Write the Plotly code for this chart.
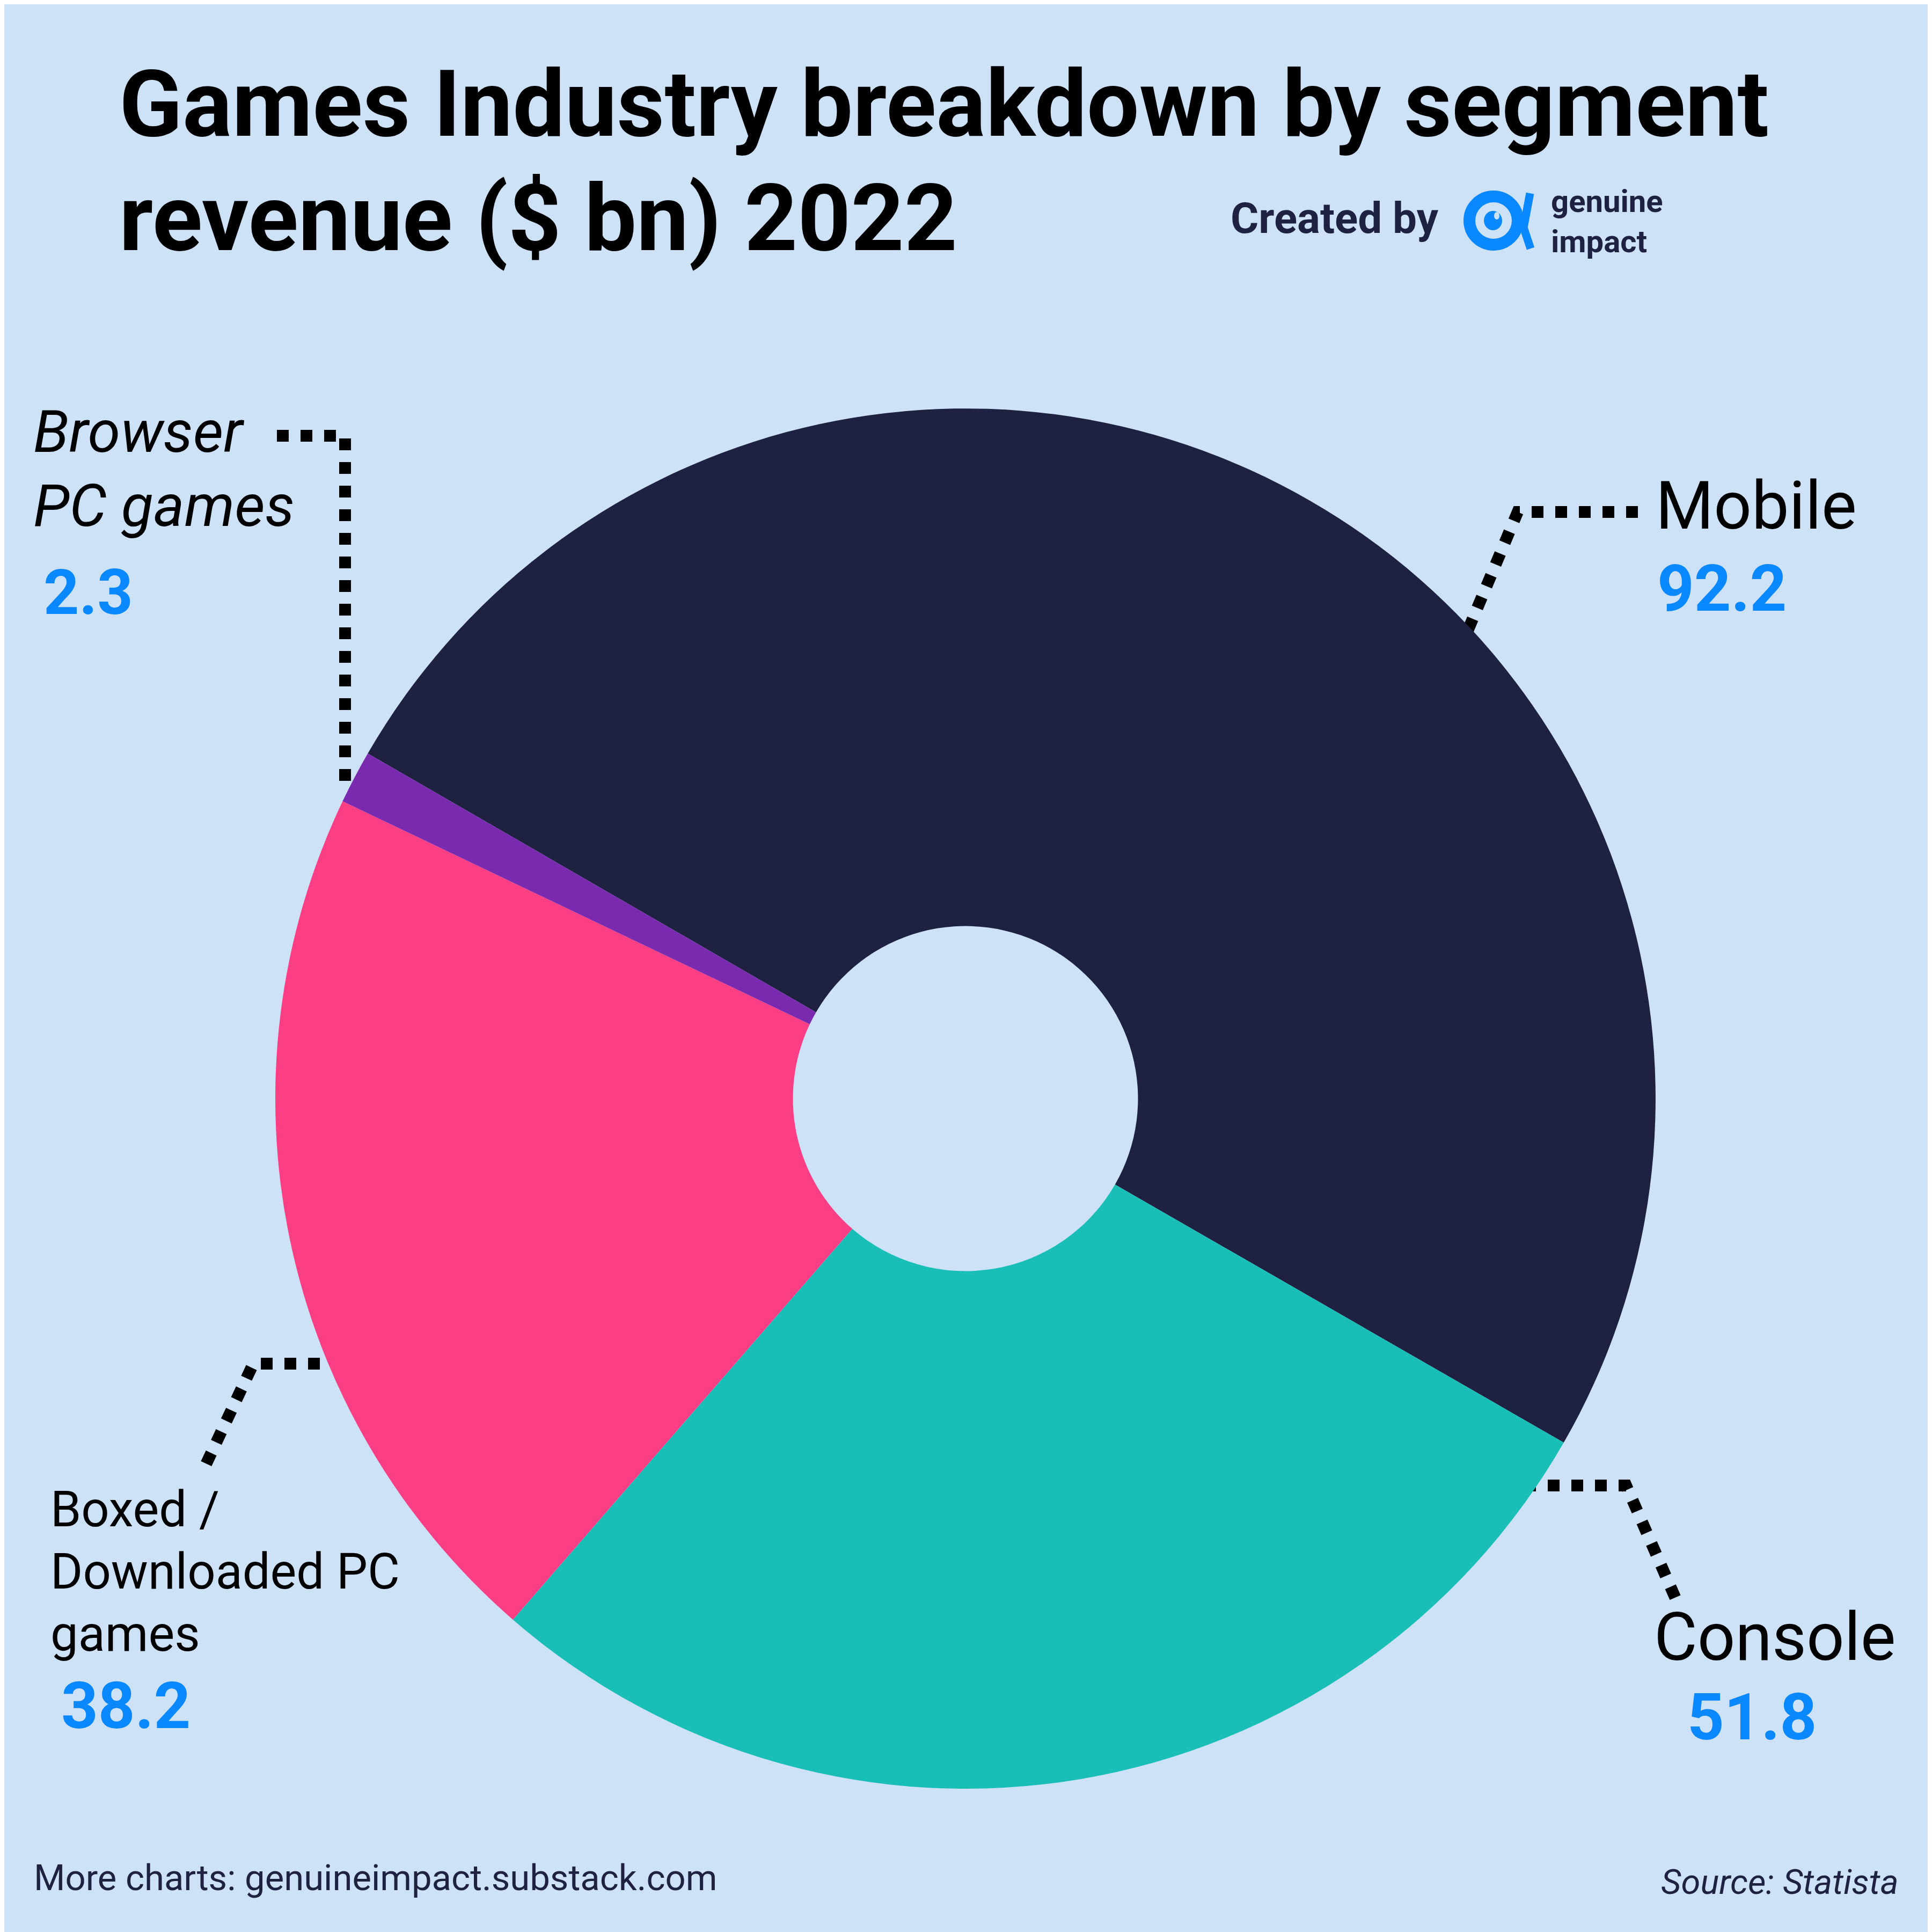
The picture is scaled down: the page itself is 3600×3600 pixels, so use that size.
import plotly.graph_objects as go

# ---- data ----
segments = ["Mobile", "Console", "Boxed / Downloaded PC games", "Browser PC games"]
revenue = [92.2, 51.8, 38.2, 2.3]
slice_colors = ["#1E2140", "#19BFB7", "#FC3E84", "#7A2AAE"]

W = H = 3600
OFF = 8  # default page body margin
BG = "#CDE1F7"
NAVY = "#1E2140"
BLUE = "#0A88FF"
FONT = "Roboto"


def px(x):
    return (x - OFF) / W


def py(y):
    return 1 - (y - OFF) / H


fig = go.Figure()

fig.add_trace(go.Pie(
    labels=segments,
    values=revenue,
    marker=dict(colors=slice_colors, line=dict(width=0)),
    hole=0.25,
    sort=False,
    direction="clockwise",
    rotation=-60,
    textinfo="none",
    hoverinfo="label+value",
    showlegend=False,
    domain=dict(x=[px(1799 - 1286), px(1799 + 1286)],
                y=[py(2047 + 1286), py(2047 - 1286)]),
))

ann = []


def text(t, x, y, size, color="#000000", bold=False, italic=False, xanchor="left"):
    ann.append(dict(
        text=f"<b>{t}</b>" if bold else t,
        x=px(x), y=py(y), xref="paper", yref="paper",
        xanchor=xanchor, yanchor="middle", showarrow=False, align="left",
        font=dict(family=FONT, size=size, color=color,
                  style="italic" if italic else "normal"),
    ))


# title
text("Games Industry breakdown by segment", 220, 194, 173, bold=True)
text("revenue ($ bn) 2022", 220, 407, 173, bold=True)

# created by / logo text
text("Created by", 2291, 407, 80, color=NAVY, bold=True)
text("genuine<br>impact", 2888, 412, 58, color=NAVY, bold=True)

# segment labels
values_fmt = [f"{v:.1f}" for v in revenue]

text("Mobile", 3083, 943, 124)
text(values_fmt[0], 3086, 1097, 120, color=BLUE, bold=True)

text("Console", 3080, 3050, 124)
text(values_fmt[1], 3142, 3200, 120, color=BLUE, bold=True)

text("Boxed /", 92, 2812, 92)
text("Downloaded PC", 92, 2928, 92)
text("games", 92, 3044, 92)
text(values_fmt[2], 112, 3179, 120, color=BLUE, bold=True)

text("Browser", 60, 804, 110, italic=True)
text("PC games", 60, 943, 110, italic=True)
text(values_fmt[3], 79, 1104, 116, color=BLUE, bold=True)

# footer
text("More charts: genuineimpact.substack.com", 61, 3499, 67, color=NAVY)
text("Source: Statista", 3540, 3507, 65, color=NAVY, italic=True, xanchor="right")

shapes = []


def leader(points):
    d = "M " + " L ".join(f"{px(x):.5f},{py(y):.5f}" for x, y in points)
    shapes.append(dict(type="path", path=d, xref="paper", yref="paper",
                       line=dict(color="#000000", width=22, dash="dot"),
                       layer="below"))


leader([(3052, 954), (2828, 954), (2735, 1175)])
leader([(2840, 2768), (3030, 2768), (3122, 2978)])
leader([(640, 2541), (472, 2541), (376, 2745)])
leader([(516, 812), (643, 812), (643, 1460)])

# logo mark
shapes.append(dict(type="circle", xref="paper", yref="paper",
                   x0=px(2783 - 45), x1=px(2783 + 45), y0=py(411 + 45), y1=py(411 - 45),
                   line=dict(color=BLUE, width=22)))
shapes.append(dict(type="circle", xref="paper", yref="paper",
                   x0=px(2782 - 17), x1=px(2782 + 17), y0=py(411 + 18), y1=py(411 - 18),
                   fillcolor=BLUE, line=dict(width=0)))
shapes.append(dict(type="circle", xref="paper", yref="paper",
                   x0=px(2789 - 5), x1=px(2789 + 5), y0=py(402 + 7), y1=py(402 - 7),
                   fillcolor=BG, line=dict(width=0)))
shapes.append(dict(type="path", xref="paper", yref="paper",
                   path=f"M {px(2851):.5f},{py(360):.5f} L {px(2839):.5f},{py(424):.5f} L {px(2852):.5f},{py(463):.5f}",
                   line=dict(color=BLUE, width=15)))

fig.update_layout(
    width=W, height=H,
    margin=dict(l=0, r=0, t=0, b=0),
    paper_bgcolor=BG, plot_bgcolor=BG,
    annotations=ann, shapes=shapes,
    showlegend=False,
)

fig.write_html("out.html")
